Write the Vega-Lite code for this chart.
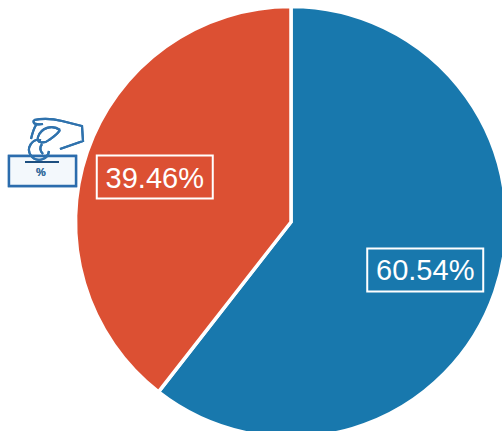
{
"$schema":"https://vega.github.io/schema/vega-lite/v6.json",
"width":502,"height":431,"autosize":"none","padding":0,
"background":"white",
"view":{"stroke":null},
"data":{"values":[{"segment":"A","value":60.54,"label":"60.54%"},{"segment":"B","value":39.46,"label":"39.46%"}]},
"transform":[
{"stack":"value","sort":[{"field":"value","order":"descending"}],"as":["start","end"]},
{"calculate":"(datum.start+datum.end)/200","as":"mid"},
{"calculate":"143*sin(2*PI*datum.mid)-1","as":"lx"},
{"calculate":"-143*cos(2*PI*datum.mid)+1.5","as":"ly"}
],
"encoding":{
"x":{"field":"lx","type":"quantitative","axis":null,"scale":{"domain":[-291,211],"nice":false,"zero":false}},
"y":{"field":"ly","type":"quantitative","axis":null,"scale":{"domain":[-222,209],"nice":false,"zero":false,"reverse":true}}
},
"layer":[
{"mark":{"type":"arc","outerRadius":215.5,"stroke":"white","strokeWidth":3.5},
"encoding":{
"x":{"datum":0,"type":"quantitative"},
"y":{"datum":0,"type":"quantitative"},
"theta":{"field":"start","type":"quantitative","scale":{"domain":[0,100]}},
"theta2":{"field":"end"},
"color":{"field":"segment","type":"nominal","legend":null,"scale":{"domain":["A","B"],"range":["#1878ad","#dc5033"]}}
}},
{"mark":{"type":"point","shape":"M-58,-21.5H58V21.5H-58Z","size":4,"filled":false,"stroke":"white","strokeWidth":2,"opacity":1}},
{"mark":{"type":"text","font":"Liberation Sans","fontSize":29,"fill":"white","align":"center","baseline":"middle","dy":1.5},
"encoding":{"text":{"field":"label"}}},
{"mark":{"type":"point","shape":"M-37,4H30V34H-37Z","size":4,"filled":true,"fill":"#f3f8fc","stroke":"#2b6cad","strokeWidth":2.4,"opacity":1},
"encoding":{"x":{"datum":-245,"type":"quantitative"},"y":{"datum":-70,"type":"quantitative"}}},
{"mark":{"type":"point","shape":"M-21,10H13","size":4,"filled":false,"stroke":"#1d4f80","strokeWidth":2.2,"opacity":1},
"encoding":{"x":{"datum":-245,"type":"quantitative"},"y":{"datum":-70,"type":"quantitative"}}},
{"mark":{"type":"point","shape":"M-12,-32C-2,-34 8,-33 16,-31L36,-26L37,-11L14,-3M-12,-32C-14,-28 -9,-27 -3,-28M-10,-27C-13,-22 -14,-17 -15,-13M14,-22C6,-28 -5,-24 -8,-15C-10,-9 -2,-8 3,-12C7,-15 12,-18 14,-22M-5,-12A10,10 0 1 0 3,-1M-4,-8C-7,-4 -6,-1 -3,2","size":4,"filled":false,"stroke":"#2f72ad","strokeWidth":2.2,"opacity":1},
"encoding":{"x":{"datum":-245,"type":"quantitative"},"y":{"datum":-70,"type":"quantitative"}}},
{"mark":{"type":"text","text":"%","font":"Liberation Sans","fontWeight":"bold","fontSize":11,"fill":"#3a6f9f","align":"center","baseline":"middle","dx":-5,"dy":21},
"encoding":{"x":{"datum":-245,"type":"quantitative"},"y":{"datum":-70,"type":"quantitative"}}}
]
}
